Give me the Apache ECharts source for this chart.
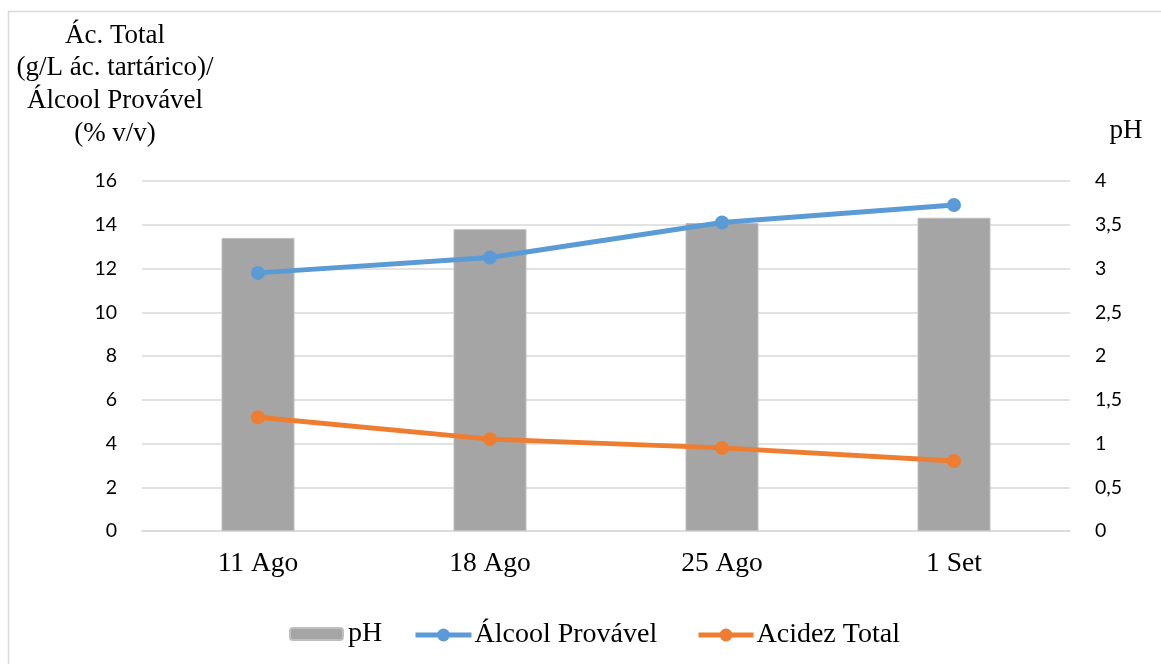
<!DOCTYPE html>
<html>
<head>
<meta charset="utf-8">
<script src="https://cdn.jsdelivr.net/npm/echarts@6/dist/echarts.min.js"></script>
<style>
html,body{margin:0;padding:0;background:#fff;}
#c{width:1161px;height:664px;}
</style>
</head>
<body>
<div id="c"></div>
<script>
const categories = ['11 Ago', '18 Ago', '25 Ago', '1 Set'];
const phValues = [3.35, 3.45, 3.52, 3.58];
const alcoolValues = [11.8, 12.5, 14.1, 14.9];
const acidezValues = [5.2, 4.2, 3.8, 3.2];
const leftTitleLines = ['Ác. Total', '(g/L ác. tartárico)/', 'Álcool Provável', '(% v/v)'];
const rightTitle = 'pH';
const seriesNames = ['pH', 'Álcool Provável', 'Acidez Total'];

const chart = echarts.init(document.getElementById('c'));
const serif = '"Liberation Serif","Times New Roman",serif';
const sans = 'Lato,"Open Sans",sans-serif';

const legendLefts = [289, 413, 696];
const legendWidths = [53, 56, 55];
const legendHeights = [12, 16, 16];
const legendTops = [620, 621, 621];
const legendTextPad = [0, -2, -2];

chart.setOption({
  animation: false,
  backgroundColor: '#fff',
  graphic: [
    { type: 'rect', shape: { x: 8.5, y: 11.5, width: 1300, height: 800 },
      style: { fill: 'none', stroke: '#d9d9d9', lineWidth: 1.5 }, silent: true },
    ...leftTitleLines.map((t, i) => ({
      type: 'text', x: 115, y: 35.5 + i * 32.7,
      style: { text: t, font: '27px ' + serif, fill: '#000', textAlign: 'center', textVerticalAlign: 'middle' }
    })),
    { type: 'text', x: 1126, y: 131,
      style: { text: rightTitle, font: '27px ' + serif, fill: '#000', textAlign: 'center', textVerticalAlign: 'middle' } }
  ],
  legend: seriesNames.map((n, i) => ({
    data: [n],
    top: legendTops[i],
    left: legendLefts[i],
    padding: 0,
    itemWidth: legendWidths[i],
    itemHeight: legendHeights[i],
    lineStyle: { width: 5 },
    textStyle: { fontFamily: serif, fontSize: 28, color: '#000', padding: [0, 0, 0, legendTextPad[i]] }
  })),
  grid: { left: 142, right: 91, top: 181, bottom: 133 },
  xAxis: {
    type: 'category',
    data: categories,
    axisLine: { show: true, lineStyle: { color: '#d9d9d9', width: 1.5 } },
    axisTick: { show: false },
    axisLabel: { fontFamily: serif, fontSize: 27.5, color: '#000', margin: 19 }
  },
  yAxis: [
    {
      type: 'value', min: 0, max: 16, interval: 2,
      axisLine: { show: false }, axisTick: { show: false },
      splitLine: { lineStyle: { color: '#d9d9d9', width: 1.5 } },
      axisLabel: { fontFamily: sans, fontSize: 19.5, color: '#000', margin: 25 }
    },
    {
      type: 'value', min: 0, max: 4, interval: 0.5,
      axisLine: { show: false }, axisTick: { show: false },
      splitLine: { show: false },
      axisLabel: { fontFamily: sans, fontSize: 19.5, color: '#000', margin: 25,
        formatter: v => String(v).replace('.', ',') }
    }
  ],
  series: [
    {
      name: 'pH', type: 'bar', yAxisIndex: 1, data: phValues,
      barWidth: 73,
      itemStyle: { color: '#a5a5a5', borderColor: '#bfbfbf', borderWidth: 1 }
    },
    {
      name: 'Álcool Provável', type: 'line', yAxisIndex: 0, data: alcoolValues,
      symbol: 'circle', symbolSize: 14,
      lineStyle: { color: '#5b9bd5', width: 5 },
      itemStyle: { color: '#5b9bd5' }
    },
    {
      name: 'Acidez Total', type: 'line', yAxisIndex: 0, data: acidezValues,
      symbol: 'circle', symbolSize: 14,
      lineStyle: { color: '#ed7d31', width: 5 },
      itemStyle: { color: '#ed7d31' }
    }
  ]
});
</script>
</body>
</html>
